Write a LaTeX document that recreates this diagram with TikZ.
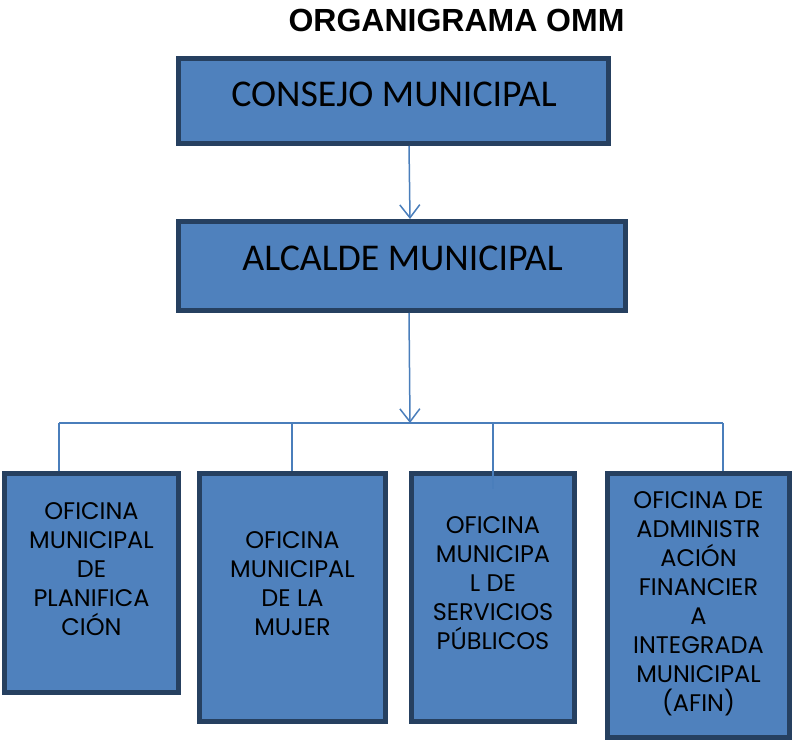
\documentclass[tikz,border=0pt]{standalone}
\usepackage{fontspec}
\setmainfont{Carlito}
\newfontfamily\titlefont{Liberation Sans}
\newfontfamily\boxfont{Poppins}
\usetikzlibrary{arrows.meta}
\definecolor{boxfill}{RGB}{79,129,189}
\definecolor{boxline}{RGB}{38,64,96}
\definecolor{conn}{RGB}{74,126,187}
\tikzset{
  orgbox/.style={draw=boxline, line width=5pt, fill=boxfill, rectangle, inner sep=0pt},
  bigtext/.style={font=\fontsize{37.8}{40}\selectfont, inner sep=0pt},
  smalltext/.style={font=\boxfont\fontsize{24}{29}\selectfont, align=center, inner sep=0pt},
  connector/.style={draw=conn, line width=1.5pt},
  arrowconn/.style={connector, -{Straight Barb[length=13pt,width=20pt]}}
}
\begin{document}
\begin{tikzpicture}[x=1pt,y=-1pt]
\useasboundingbox (0,0) rectangle (793,741);
% title
\node[font=\titlefont\bfseries\fontsize{32}{34}\selectfont, inner sep=0pt, text height=22pt, text depth=0pt] (title) at (456.5,21) {ORGANIGRAMA OMM};
% top boxes
\node[orgbox, minimum width=430pt, minimum height=85pt] (consejo) at (393.5,101) {};
\node[bigtext, text height=24pt, text depth=0pt] (consejoT) at (394,95) {CONSEJO MUNICIPAL};
\node[orgbox, minimum width=447pt, minimum height=89pt] (alcalde) at (402,266) {};
\node[bigtext, text height=24pt, text depth=0pt] (alcaldeT) at (402.5,258) {ALCALDE MUNICIPAL};
% bottom boxes
\node[orgbox, minimum width=174pt, minimum height=219pt] (b1) at (91.5,583) {};
\node[orgbox, minimum width=186pt, minimum height=248pt] (b2) at (292.5,597.5) {};
\node[orgbox, minimum width=163pt, minimum height=248pt] (b3) at (493,597.5) {};
\node[orgbox, minimum width=182pt, minimum height=264pt] (b4) at (698.5,605.5) {};
\node[smalltext] (t1) at (91.5,569) {OFICINA\\MUNICIPAL\\DE\\PLANIFICA\\CIÓN};
\node[smalltext] (t2) at (292.5,583.5) {OFICINA\\MUNICIPAL\\DE LA\\MUJER};
\node[smalltext] (t3) at (493,583.5) {OFICINA\\MUNICIPA\\L DE\\SERVICIOS\\PÚBLICOS};
\node[smalltext] (t4) at (698.5,603.5) {OFICINA DE\\ADMINISTR\\ACIÓN\\FINANCIER\\A\\INTEGRADA\\MUNICIPAL\\(AFIN)};
% connectors
\coordinate (bus) at (410,423);
\coordinate (busL) at (59,423);
\coordinate (busR) at (723,423);
\coordinate (j1) at (59,423);
\coordinate (j2) at (292,423);
\coordinate (j3) at (493,423);
\coordinate (j4) at (723,423);
\coordinate (e3) at (493,489);
\draw[arrowconn] (consejo.south -| 409,0) -- (alcalde.north -| 410,0);
\draw[arrowconn] (alcalde.south -| 409,0) -- (bus);
\draw[connector] (busL) -- (busR);
\draw[connector] (j1) -- (b1.north -| j1);
\draw[connector] (j2) -- (b2.north -| j2);
\draw[connector] (j3) -- (e3);
\draw[connector] (j4) -- (b4.north -| j4);
\end{tikzpicture}
\end{document}
